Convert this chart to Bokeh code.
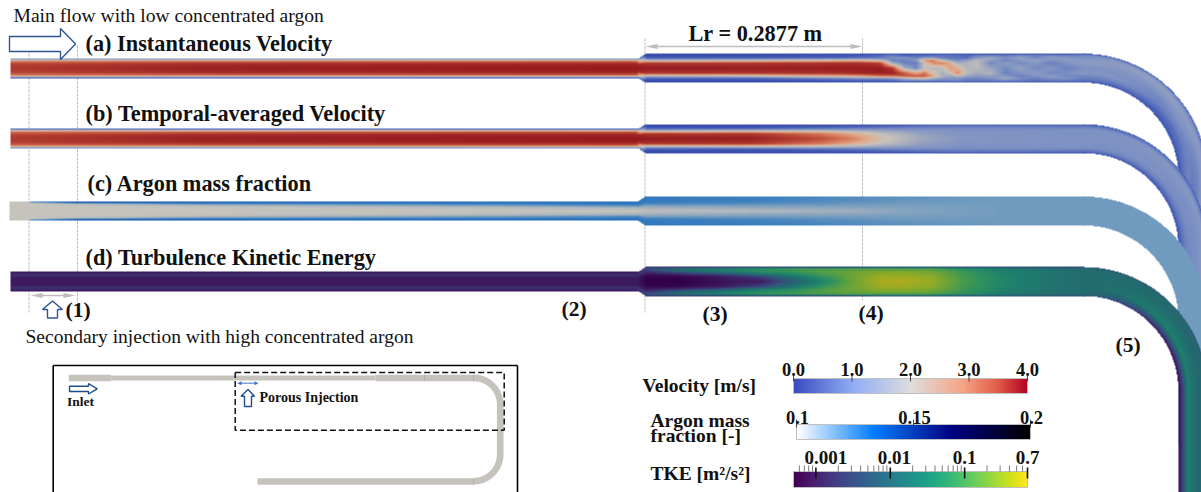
import numpy as np
from bokeh.plotting import figure
from bokeh.models import Range1d, LinearColorMapper, LogColorMapper
from bokeh.palettes import Viridis256
from bokeh.core.properties import value
from bokeh.embed import file_html
from bokeh.resources import INLINE

# ---------- data ----------
eta_bands = [-1, -.88, -.7, -.55, -.35, 0, .35, .55, .7, .88, 1]   # across the pipe, -1 = outer wall

def sym(h):
    return list(h) + list(h[-2::-1])

# Temporal-averaged velocity, m/s
b_stations = [10, 200, 636, 646, 750, 820, 850, 880, 920, 960, 1083, 1170, 1260, 1380]
b_velocity = [
    sym([.4, 1.7, 3.0, 3.3, 3.5, 3.6]),
    sym([.4, 1.7, 3.1, 3.5, 3.8, 3.9]),
    sym([.4, 1.7, 3.2, 3.6, 3.9, 4.0]),
    sym([.4, .15, .6, 1.6, 3.6, 4.0]),
    sym([.4, .2, .6, 1.8, 3.6, 3.95]),
    sym([.4, .3, .8, 1.8, 3.0, 3.4]),
    sym([.4, .4, .9, 1.6, 2.5, 3.0]),
    sym([.4, .5, 1.0, 1.4, 1.9, 2.2]),
    sym([.4, .7, 1.05, 1.2, 1.35, 1.5]),
    sym([.4, .8, 1.05, 1.1, 1.15, 1.2]),
    sym([.4, .75, 1.05, 1.1, 1.1, 1.1]),
    [.4, .9, 1.15, 1.2, 1.15, 1.1, 1.1, 1.0, .85, .6, .35],
    [.4, .9, 1.2, 1.2, 1.1, 1.05, 1.0, .9, .75, .55, .35],
    [.4, .9, 1.2, 1.2, 1.1, 1.05, 1.0, .9, .75, .55, .35],
]

# Instantaneous velocity, m/s
a_stations = [10, 200, 636, 646, 750, 840, 860, 880, 892, 904, 916, 924, 932, 942, 950, 957, 966, 976,
              990, 1005, 1020, 1035, 1050, 1065, 1083, 1130, 1170, 1200, 1260, 1380]
a_velocity = [
    sym([.4, 1.7, 3.0, 3.3, 3.5, 3.6]),
    sym([.4, 1.7, 3.1, 3.5, 3.8, 3.9]),
    sym([.4, 1.7, 3.2, 3.6, 3.9, 4.0]),
    sym([.4, .15, .6, 1.6, 3.6, 4.0]),
    sym([.4, .2, .6, 1.8, 3.6, 3.95]),
    [.4, .3, .7, 2.2, 3.7, 3.95, 3.7, 2.4, 1.0, .4, .4],
    [.4, .4, .8, 2.3, 3.7, 3.95, 3.8, 2.6, 1.1, .5, .4],
    [.4, .6, .9, 1.8, 3.5, 3.95, 3.9, 3.0, 1.1, .5, .4],
    [.4, .9, 1.1, .9, 1.5, 3.6, 3.9, 3.0, 1.2, .6, .4],
    [.4, .5, 1.2, .9, .9, 1.6, 3.3, 3.3, 1.6, .8, .4],
    [.4, .6, 1.0, 1.2, .9, 1.0, 2.6, 3.3, 2.0, .8, .4],
    [.4, .6, 1.3, 2.8, 2.0, 1.9, 3.0, 3.3, 2.0, .9, .4],
    [.4, .7, 1.3, 3.0, 2.8, 1.7, 2.2, 2.6, 1.6, .8, .4],
    [.4, .8, .9, 1.9, 2.9, 1.9, 1.6, 1.6, 1.3, .8, .4],
    [.4, .8, .8, 1.2, 2.5, 2.7, 2.0, 1.4, 1.2, .9, .4],
    [.4, .7, .8, 1.0, 1.6, 2.4, 2.9, 1.7, 1.2, .9, .4],
    [.4, .6, .7, 1.3, 1.7, 1.7, 1.9, 1.4, 1.0, .8, .4],
    [.4, .8, 1.3, 1.8, 1.9, 1.8, 1.5, 1.2, 1.0, .8, .4],
    [.4, .9, 1.5, 1.3, 1.0, 1.4, 1.7, 1.3, 1.1, .8, .4],
    [.4, .8, 1.1, .9, 1.3, 1.0, .9, 1.2, 1.5, .9, .4],
    [.4, 1.0, 1.4, 1.2, 1.0, 1.4, 1.1, .9, 1.1, .8, .4],
    [.4, .9, 1.0, 1.4, 1.2, 1.0, 1.3, 1.1, .9, .7, .4],
    [.4, 1.0, 1.3, 1.1, .9, 1.2, 1.0, 1.3, 1.1, .8, .4],
    [.4, .9, 1.2, 1.3, 1.1, .9, 1.1, 1.0, 1.2, .8, .4],
    [.4, 1.0, 1.1, 1.2, 1.3, 1.1, 1.2, 1.0, .9, .7, .4],
    [.4, 1.1, 1.3, 1.3, 1.2, 1.1, 1.1, 1.0, .85, .6, .35],
    [.4, 1.1, 1.3, 1.3, 1.2, 1.0, .9, .75, .6, .5, .35],
    [.4, 1.0, 1.2, 1.3, 1.2, 1.1, .9, .7, .65, .5, .35],
    [.4, 1.0, 1.2, 1.2, 1.0, .85, .95, .9, .75, .5, .35],
    [.4, 1.0, 1.2, 1.2, 1.0, .85, .95, .9, .75, .5, .35],
]

# Argon mass fraction (values under 0.1 show as grey)
c_stations = [9, 28, 30, 77, 200, 500, 636, 646, 750, 860, 900, 1000, 1380]
c_argon = [
    sym([.09, .09, .09, .09, .09, .09]),
    sym([.09, .09, .09, .09, .09, .09]),
    sym([.2, .09, .09, .09, .09, .09]),
    sym([.18, .14, .095, .09, .09, .09]),
    sym([.16, .14, .115, .095, .09, .09]),
    sym([.145, .135, .125, .11, .095, .09]),
    sym([.14, .135, .13, .12, .1, .09]),
    sym([.13, .13, .13, .127, .108, .093]),
    sym([.127, .127, .127, .122, .11, .097]),
    sym([.12, .12, .118, .115, .11, .103]),
    sym([.118, .117, .115, .113, .11, .107]),
    sym([.112, .112, .112, .112, .112, .112]),
    sym([.112, .112, .112, .112, .112, .112]),
]

# Turbulence kinetic energy, m2/s2
d_stations = [10, 636, 646, 680, 720, 760, 790, 820, 850, 880, 900, 930, 960, 1000, 1040, 1083, 1180, 1255, 1380]
d_tke = [
    sym([.001, .001, .002, .0015, .001, .001]),
    sym([.001, .001, .002, .0015, .001, .001]),
    sym([.002, .004, .002, .001, .0006, .0005]),
    sym([.002, .012, .007, .002, .0006, .0005]),
    sym([.002, .022, .016, .005, .001, .0008]),
    sym([.003, .04, .03, .018, .003, .001]),
    sym([.003, .05, .045, .03, .012, .005]),
    sym([.003, .06, .07, .06, .04, .02]),
    sym([.003, .07, .09, .1, .1, .09]),
    sym([.004, .07, .12, .15, .2, .25]),
    sym([.004, .07, .13, .16, .21, .27]),
    sym([.004, .07, .1, .13, .17, .2]),
    sym([.004, .035, .05, .055, .06, .065]),
    sym([.004, .018, .02, .022, .025, .025]),
    sym([.004, .012, .014, .015, .015, .015]),
    sym([.004, .009, .01, .01, .01, .01]),
    [.004, .009, .009, .009, .01, .014, .02, .009, .004, .002, .0008],
    [.004, .007, .008, .008, .009, .012, .02, .007, .003, .0012, .0006],
    [.004, .007, .008, .008, .009, .012, .02, .007, .003, .0012, .0006],
]

velocity_ticks = [0.0, 1.0, 2.0, 3.0, 4.0]
velocity_labels = ["0.0", "1.0", "2.0", "3.0", "4.0"]
argon_ticks = [0.1, 0.15, 0.2]
argon_labels = ["0.1", "0.15", "0.2"]
tke_ticks = [0.001, 0.01, 0.1, 0.7]
tke_labels = ["0.001", "0.01", "0.1", "0.7"]
tke_minor = [.0006, .0007, .0008, .0009, .002, .003, .004, .005, .006, .007, .008, .009,
             .02, .03, .04, .05, .06, .07, .08, .09, .2, .3, .4, .5, .6]

# ---------- style ----------
W, H = 1201, 492
SERIF = value("Liberation Serif")

def ramp(stops, n=256):
    ts = [s[0] for s in stops]
    out = []
    for t in np.linspace(ts[0], ts[-1], n):
        c = [int(round(np.interp(t, ts, [s[1][k] for s in stops]))) for k in range(3)]
        out.append("#%02x%02x%02x" % tuple(c))
    return out

vel_field_pal = ramp([(0, (45, 65, 165)), (.5, (68, 92, 182)), (1.1, (125, 145, 195)), (1.6, (170, 175, 190)),
                      (2, (200, 195, 185)), (2.5, (225, 170, 140)), (3, (215, 120, 90)), (3.5, (180, 65, 50)), (4, (150, 25, 30))])
arg_field_pal = ramp([(.09, (197, 195, 188)), (.1, (170, 180, 190)), (.112, (113, 155, 190)), (.125, (65, 130, 190)),
                      (.14, (25, 105, 190)), (.16, (0, 60, 150)), (.18, (0, 20, 90)), (.2, (0, 0, 20))])
tke_field_pal = ramp([(0, (50, 0, 75)), (.1, (62, 28, 95)), (.2, (60, 55, 120)), (.3, (50, 85, 125)), (.4, (35, 105, 110)),
                      (.5, (30, 125, 110)), (.6, (45, 145, 95)), (.7, (90, 160, 65)), (.8, (140, 170, 40)),
                      (.9, (190, 172, 25)), (1, (230, 220, 30))])
vel_bar_pal = ramp([(0, (59, 76, 192)), (.25, (143, 172, 245)), (.5, (221, 221, 221)), (.72, (245, 165, 135)),
                    (.88, (225, 90, 70)), (1, (180, 4, 38))])
arg_bar_pal = ramp([(0, (255, 255, 255)), (.33, (0, 125, 255)), (.67, (0, 0, 128)), (1, (0, 0, 0))])

p = figure(width=W, height=H, x_range=Range1d(0, W), y_range=Range1d(H, 0),
           x_axis_type=None, y_axis_type=None, output_backend="svg", toolbar_location=None,
           min_border=0, outline_line_color=None, background_fill_color="white")
p.grid.visible = False

# guide lines
guide_x = [28.5, 77, 644.5, 862]
guide_top = [45, 45, 38, 38]
guide_bot = [312, 302, 312, 300]
p.segment(guide_x, guide_top, guide_x, guide_bot, line_color="#ababab", line_width=0.8, line_dash="3 1")

# ---------- pipes: each is one raster of its sampled field, painted through a colour mapper ----------
BEND_X, BEND_R, WIDE = 1083, 109.5, 14.5

def lookup(s, eta, stations, tab):
    st = np.array(stations, float)
    eb = np.array(eta_bands, float)
    i = np.clip(np.searchsorted(st, s) - 1, 0, len(st) - 2)
    ts = np.clip((s - st[i]) / (st[i + 1] - st[i]), 0, 1)
    j = np.clip(np.searchsorted(eb, eta) - 1, 0, len(eb) - 2)
    te = np.clip((eta - eb[j]) / (eb[j + 1] - eb[j]), 0, 1)
    return ((tab[i, j] * (1 - te) + tab[i, j + 1] * te) * (1 - ts) +
            (tab[i + 1, j] * (1 - te) + tab[i + 1, j + 1] * te) * ts)

def draw_pipe(stations, rows, cy, mapper, log=False):
    tab = np.array(rows, float)
    if log:
        tab = np.log10(tab)
    y0 = int(cy - 17)
    # bend and the run below it
    yc = cy + BEND_R
    X, Y = np.meshgrid(np.arange(BEND_X, 1201) + .5, np.arange(y0, min(int(yc) + 125, 492)) + .5)
    up = Y <= yc
    r = np.hypot(X - BEND_X, Y - yc)
    phi = np.arctan2(X - BEND_X, yc - Y)
    s = np.where(up, BEND_X + BEND_R * phi, BEND_X + BEND_R * np.pi / 2 + (Y - yc))
    eta = np.where(up, (BEND_R - r) / WIDE, (BEND_X + BEND_R - X) / WIDE)
    v = lookup(s, eta, stations, tab)
    v = np.where(np.abs(eta) <= 1, 10 ** v if log else v, np.nan)
    p.image(image=[v.astype("float32")], x=BEND_X, y=y0, dw=X.shape[1], dh=X.shape[0], color_mapper=mapper)
    # straight part, laid one pixel over the start of the bend
    X, Y = np.meshgrid(np.arange(stations[0], BEND_X + 1) + .5, np.arange(y0, y0 + 34) + .5)
    h = np.interp(X, [638, 645], [9.8, WIDE])
    eta = (Y - cy) / h
    v = lookup(X, eta, stations, tab)
    v = np.where(np.abs(eta) <= 1, 10 ** v if log else v, np.nan)
    p.image(image=[v.astype("float32")], x=stations[0], y=y0, dw=X.shape[1], dh=X.shape[0], color_mapper=mapper)

CLEAR = (0, 0, 0, 0)
draw_pipe(a_stations, a_velocity, 67.7, LinearColorMapper(palette=vel_field_pal, low=0, high=4, nan_color=CLEAR))
draw_pipe(b_stations, b_velocity, 138.2, LinearColorMapper(palette=vel_field_pal, low=0, high=4, nan_color=CLEAR))
draw_pipe(c_stations, c_argon, 210.5, LinearColorMapper(palette=arg_field_pal, low=.09, high=.2, nan_color=CLEAR))
draw_pipe(d_stations, d_tke, 281, LogColorMapper(palette=tke_field_pal, low=.0005, high=.7, nan_color=CLEAR), log=True)

# ---------- arrows ----------
ARROW_BLUE = "#2f5597"
p.patch([9, 60, 60, 75, 60, 60, 9], [36, 36, 28, 43.5, 59, 51, 51], fill_color="white", line_color=ARROW_BLUE, line_width=1.4)
p.patch([52, 62, 57, 57, 47, 47, 42], [300.5, 309, 309, 317.5, 317.5, 309, 309], fill_color="white", line_color=ARROW_BLUE, line_width=1.4)
GREY = "#bdbdbd"
p.segment([650, 36], [46, 295], [857, 70], [46, 295], line_color=GREY, line_width=1.6)
p.patch([645, 657, 657], [46, 43.5, 48.5], fill_color=GREY, line_color=None)
p.patch([862, 850, 850], [46, 43.5, 48.5], fill_color=GREY, line_color=None)
p.patch([30, 42, 42], [295, 292.5, 297.5], fill_color=GREY, line_color=None)
p.patch([75, 63, 63], [295, 292.5, 297.5], fill_color=GREY, line_color=None)

# ---------- texts ----------
def txt(x, y, s, size, bold=True, align="left"):
    p.text([x], [y], text=[s], text_font=SERIF, text_font_size=value(f"{size}px"),
           text_font_style="bold" if bold else "normal", text_baseline="middle", text_align=align, text_color="#111111")

txt(13, 15, "Main flow with low concentrated argon", 19.6, bold=False)
txt(85, 43, "(a) Instantaneous Velocity", 22.3)
txt(85, 113, "(b) Temporal-averaged Velocity", 22.3)
txt(87, 183, "(c) Argon mass fraction", 22.3)
txt(85, 257, "(d) Turbulence Kinetic Energy", 22.3)
txt(688, 33, "Lr = 0.2877 m", 22.3)
txt(65, 309, "(1)", 21.5)
txt(561, 308, "(2)", 21.5)
txt(702, 313, "(3)", 21.5)
txt(858, 312, "(4)", 21.5)
txt(1115, 344, "(5)", 21.5)
txt(25, 336, "Secondary injection with high concentrated argon", 19.5, bold=False)

# ---------- colour bars ----------
def bar(x0, x1, y0, y1, mapper, vals):
    arr = np.array([vals], float)
    p.image(image=[arr], x=x0, y=y0, dw=x1 - x0, dh=y1 - y0, color_mapper=mapper)
    p.quad(left=[x0], right=[x1], top=[y0], bottom=[y1], fill_color=None, line_color="#c0c0c0", line_width=1)

VX0, VX1 = 793, 1027
AX0, AX1 = 796, 1030
TX0, TX1 = 793, 1027
vel_low, vel_high = 0.0, 4.0
arg_low, arg_high = 0.1, 0.2
tke_low, tke_high = 0.0005, 0.7

def lin_x(v, lo, hi, x0, x1):
    return x0 + (v - lo) / (hi - lo) * (x1 - x0)

def log_x(v):
    return TX0 + (np.log10(v) - np.log10(tke_low)) / (np.log10(tke_high) - np.log10(tke_low)) * (TX1 - TX0)

bar(VX0, VX1, 378, 393, LinearColorMapper(palette=vel_bar_pal, low=vel_low, high=vel_high), np.linspace(vel_low, vel_high, 234))
bar(AX0, AX1, 424, 439, LinearColorMapper(palette=arg_bar_pal, low=arg_low, high=arg_high), np.linspace(arg_low, arg_high, 234))
bar(TX0, TX1, 471, 487, LogColorMapper(palette=Viridis256, low=tke_low, high=tke_high), np.geomspace(tke_low, tke_high, 234))

for v, lab in zip(velocity_ticks, velocity_labels):
    x = lin_x(v, vel_low, vel_high, VX0, VX1)
    p.segment([x], [373], [x], [381], line_color="#333333", line_width=0.9)
    txt(x, 369, lab, 18.5, align="center")
for v, lab in zip(argon_ticks, argon_labels):
    x = lin_x(v, arg_low, arg_high, AX0, AX1)
    p.segment([x], [419], [x], [427], line_color="#333333", line_width=0.9)
    txt(x + 1, 417, lab, 18.5, align="center")
for v, lab in zip(tke_ticks, tke_labels):
    x = log_x(v)
    p.segment([x], [467], [x], [478], line_color="#111111", line_width=1.6)
    txt(x + (10 if v == .001 else 4 if v == .01 else 0), 457, lab, 19, align="center")
mx = [log_x(v) for v in tke_minor]
p.segment(mx, [465] * len(mx), mx, [471] * len(mx), line_color="#444444", line_width=0.7)

txt(642, 385, "Velocity [m/s]", 19.5)
txt(650, 420, "Argon mass", 19.5)
txt(650, 435, "fraction [-]", 19.5)
txt(650, 473, "TKE [m²/s²]", 19.5)

# ---------- inset ----------
p.segment([52.7, 517, 52.7], [365, 365, 365], [52.7, 517, 517], [500, 500, 365], line_color="black", line_width=1.6)
TUBE = "#c5c3bc"
BX, BR = 473, 26.7
ang = np.linspace(0, np.pi, 60)
tube_x = [375, BX] + [BX + BR * np.sin(a) for a in ang] + [BX, 257]
tube_y = [377.5, 377.5] + [404 - BR * np.cos(a) for a in ang[:30]] + [454 - BR * np.cos(a) for a in ang[30:]] + [481, 481]
p.line(tube_x, tube_y, line_color=TUBE, line_width=6.6)
p.line([68.3, 110.7], [377.5, 377.5], line_color=TUBE, line_width=6.4)
p.line([110.7, 375], [377.5, 377.5], line_color=TUBE, line_width=5)
p.segment([424, 473, 473], [374.3, 374.3, 477.8], [424, 473, 473], [380.7, 380.7, 484.2], line_color="#aaa9a3", line_width=0.7)
bx = [234.7, 503.7, 503.7, 234.7, 234.7]
by = [372, 372, 429.7, 429.7, 372]
p.line(bx, by, line_color="#111111", line_width=1.5, line_dash="6 3")
p.patch([69, 88, 88, 96.7, 88, 88, 69], [385.7, 385.7, 383, 388.3, 393.5, 391, 391], fill_color="white", line_color="#1f4e8c", line_width=1.4)
p.patch([247.5, 254, 251, 251, 244, 244, 240.5], [389, 395.7, 395.7, 406, 406, 395.7, 395.7], fill_color="white", line_color="#1f4e8c", line_width=1.4)
DBL = "#4472c4"
p.segment([239], [382.7], [256], [382.7], line_color=DBL, line_width=1)
p.patch([236.7, 241, 241], [382.7, 380.7, 384.7], fill_color=DBL, line_color=None)
p.patch([258, 254, 254], [382.7, 380.7, 384.7], fill_color=DBL, line_color=None)
txt(66.5, 401, "Inlet", 13.5)
txt(259, 397, "Porous Injection", 14)

open("out.html", "w").write(file_html(p, INLINE))
